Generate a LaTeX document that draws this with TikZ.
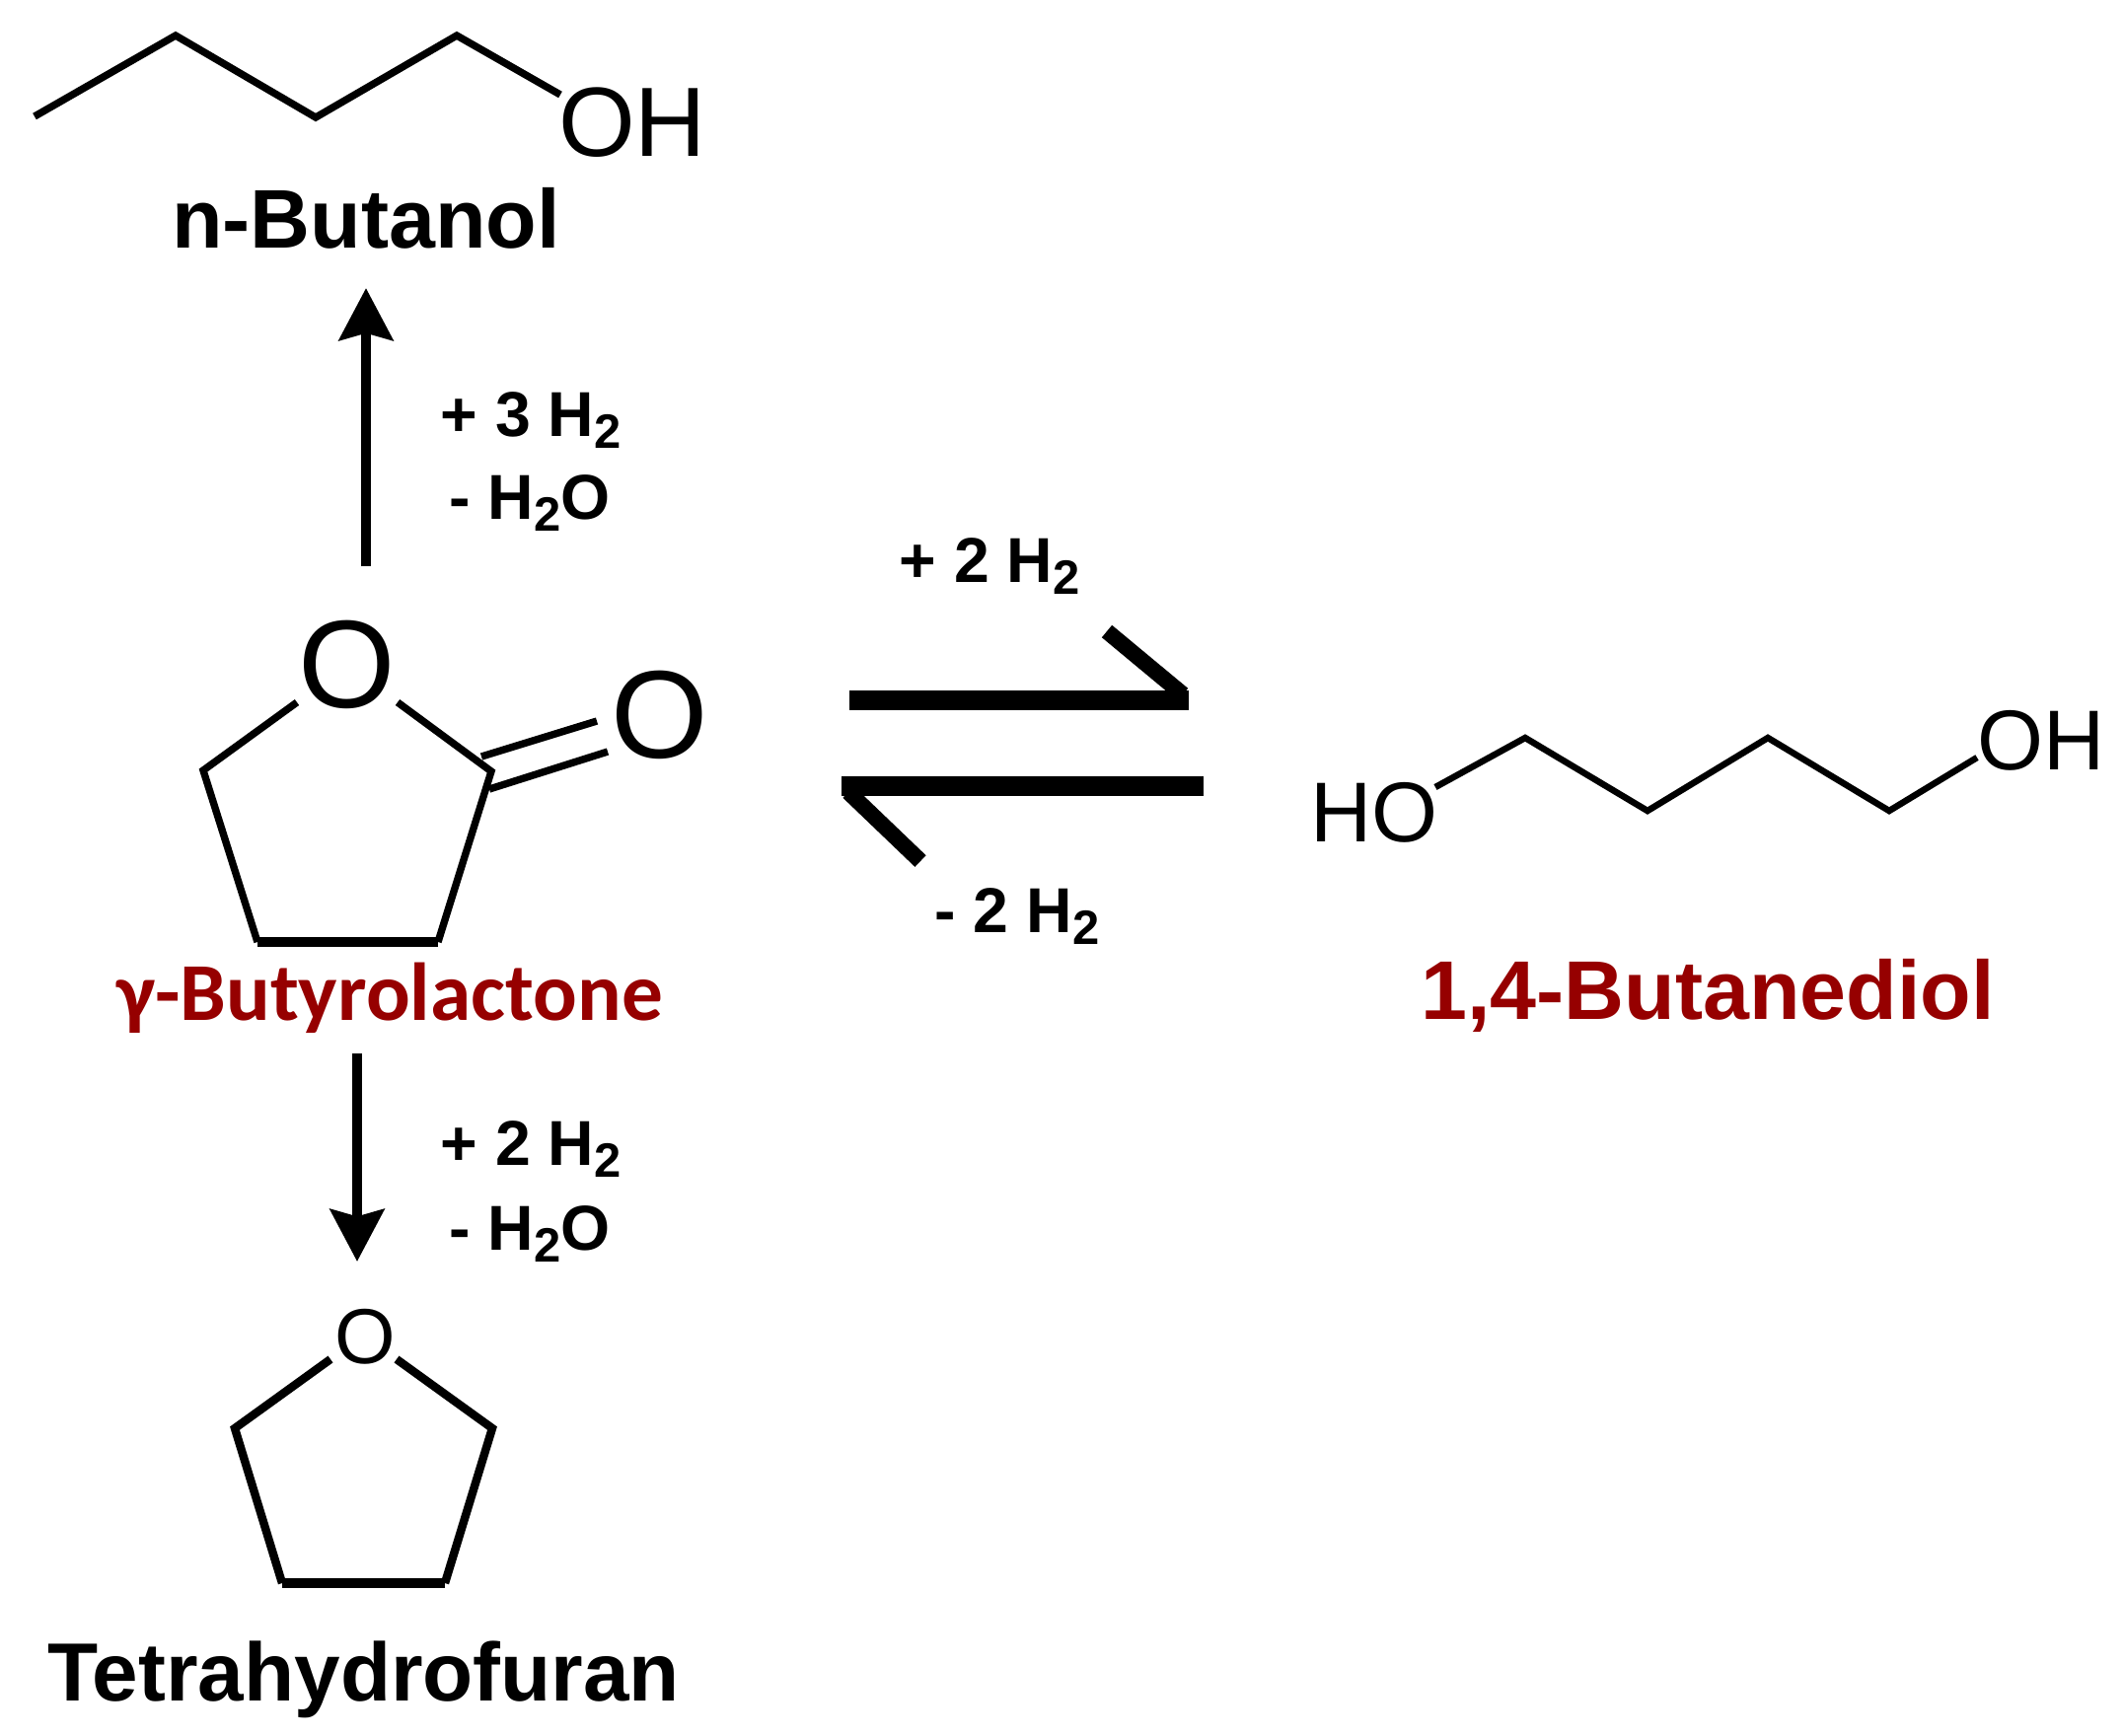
\documentclass[tikz,border=0pt]{standalone}
\usepackage[RGB]{xcolor}
\usepackage{fontspec}
\setmainfont{Liberation Sans}
\newfontfamily\labelfont{Carlito}
\usetikzlibrary{arrows.meta}
\definecolor{darkred}{RGB}{150,0,0}
\newcommand{\drawbond}{\draw[line width=2.1pt]}
\newcommand{\drawthf}{\draw[line width=2.4pt]}
\newcommand{\drawhalf}{\draw[line width=4.6pt]}
\newcommand{\drawbar}{\draw[line width=5.6pt]}
\newcommand{\subtwo}{\raisebox{-.2em}{\scalebox{.76}{2}}}
\newcommand{\reagent}[4]{\node[anchor=base,inner sep=0pt,font=\fontsize{18.3pt}{20pt}\bfseries] (#1) at (#2,#3) {#4};}
\newcommand{\atom}[5]{\node[anchor=base,inner sep=0pt,font=\fontsize{#4}{#4}\selectfont] (#1) at (#2,#3) {#5};}
\tikzset{rxnarrow/.style={line width=3.1pt,-{Stealth[length=15pt,width=15.4pt,inset=2pt]}}}
\begin{document}
\begin{tikzpicture}[x=0.01cm,y=-0.01cm]
\useasboundingbox (0,0) rectangle (2152,1759);
\fill[white] (0,0) rectangle (2152,1759);
% n-butanol
\atom{nbutOH}{641}{158}{28.4pt}{OH}
\node[anchor=base,inner sep=0pt,font=\fontsize{24pt}{26pt}\bfseries] (nbut) at (371,251) {n-Butanol};
\drawbond (35,118)--(178,36)--(320,119)--(463,36)--(568,96);
% gamma-butyrolactone
\atom{gblO}{352}{717}{36pt}{O}
\atom{gblOx}{669}{768}{36pt}{O}
\drawbond (301,712)--(206,781)--(261,955);
\drawbond (403,712)--(498,782)--(444,955);
\draw[line width=2.7pt] (261,955)--(444,955);
\drawbond (488,767)--(605,731);
\drawbond (496,800)--(616,762);
\node[anchor=base,inner sep=0pt,text=darkred,font=\labelfont\fontsize{23.7pt}{26pt}\bfseries] (gbl) at (395,1034) {γ-Butyrolactone};
% tetrahydrofuran
\atom{thfO}{370}{1382}{22.5pt}{O}
\drawthf (335,1378)--(238,1448)--(286,1605);
\drawthf (402,1378)--(499,1448)--(451,1605);
\draw[line width=2.7pt] (286,1605)--(451,1605);
\node[anchor=base,inner sep=0pt,font=\fontsize{23.8pt}{26pt}\bfseries] (thf) at (369,1724) {Tetrahydrofuran};
% 1,4-butanediol
\atom{bdoHO}{1393}{853}{24.5pt}{HO}
\atom{bdoOH}{2069}{780}{24.5pt}{OH}
\draw[line width=1.85pt] (1455,798)--(1546,748)--(1670,822)--(1792,748)--(1915,822)--(2004,768);
\node[anchor=base,inner sep=0pt,text=darkred,font=\fontsize{24pt}{26pt}\bfseries] (bdo) at (1731,1033) {1,4-Butanediol};
% arrows
\coordinate (upfoot) at (371,574);
\coordinate (uptip) at (371,292);
\coordinate (downfoot) at (362,1068);
\coordinate (downtip) at (362,1279);
\draw[rxnarrow] (upfoot)--(uptip);
\draw[rxnarrow] (downfoot)--(downtip);
\coordinate (fwdstart) at (861,710);
\coordinate (fwdend) at (1205,710);
\coordinate (revstart) at (1220,797);
\coordinate (revend) at (853,797);
\drawbar (fwdstart)--(fwdend);
\drawhalf (1122,640)--(1199,704);
\drawbar (revstart)--(revend);
\drawhalf (933,873)--(860,803);
% reagents
\reagent{upadd}{538}{442}{+ 3 H\subtwo}
\reagent{uploss}{537}{526}{- H\subtwo O}
\reagent{downadd}{538}{1181}{+ 2 H\subtwo}
\reagent{downloss}{537}{1267}{- H\subtwo O}
\reagent{fwdadd}{1003}{590}{+ 2 H\subtwo}
\reagent{revloss}{1031}{945}{- 2 H\subtwo}
\end{tikzpicture}
\end{document}
